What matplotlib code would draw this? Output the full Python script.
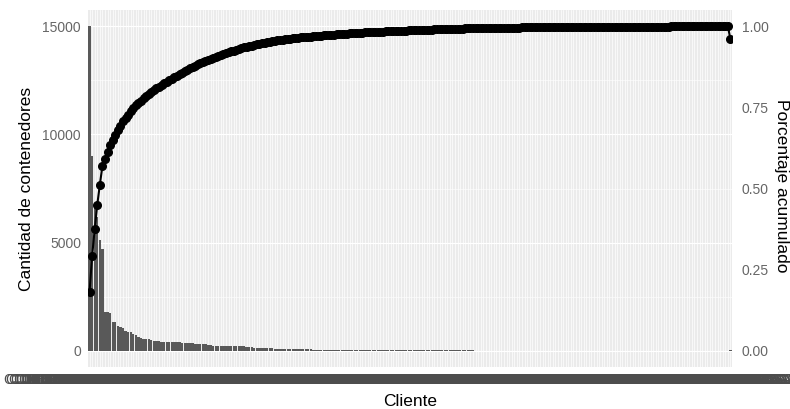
# Pareto de contenedores por cliente (barras + porcentaje acumulado)
import numpy as np
import matplotlib

matplotlib.use("Agg")
import matplotlib.pyplot as plt

plt.rcParams["font.family"] = ["Liberation Sans", "DejaVu Sans"]

# contenedores por cliente, ordenados de mayor a menor
contenedores = [
    15000, 9000, 6850, 6200, 5100, 4700, 1800, 1800, 1750, 1350,
    1310, 1150, 1100, 1060, 900, 870, 850, 760, 720, 640,
    580, 560, 550, 540, 490, 470, 460, 450, 415, 410,
    405, 400, 395, 392, 390, 385, 380, 375, 350, 345,
    340, 335, 330, 325, 320, 315, 250, 245, 240, 235,
    230, 228, 225, 222, 220, 218, 215, 212, 210, 205,
    200, 160, 155, 152, 150, 148, 145, 142, 140, 138,
    135, 130, 95, 92, 90, 88, 86, 84, 82, 80,
    78, 76, 74, 62, 61, 60, 59, 58, 57, 56,
    55, 54, 54, 53, 52, 52, 51, 50, 50, 49,
    48, 47, 46, 45, 36, 35, 35, 34, 34, 33,
    33, 32, 32, 31, 31, 30, 30, 30, 29, 29,
    28, 28, 28, 27, 27, 27, 26, 26, 26, 25,
    25, 25, 24, 24, 24, 23, 23, 23, 22, 22,
    22, 21, 21, 21, 20, 20, 20, 20, 19, 19,
    12, 12, 12, 12, 11, 11, 11, 11, 10, 10,
    10, 10, 10, 9, 9, 9, 9, 9, 8, 8,
    8, 8, 8, 8, 7, 7, 7, 7, 7, 7,
    6, 6, 6, 6, 6, 6, 5, 5, 5, 5,
    5, 5, 5, 4, 4, 4, 4, 4, 4, 4,
    4, 3, 3, 3, 3, 3, 3, 3, 3, 3,
    3, 3, 2, 2, 2, 2, 2, 2, 2, 2,
    2, 2, 2, 2, 2, 2, 2, 2, 1, 1,
    1, 1, 1, 1, 1, 1, 1, 1, 1, 1,
    1, 1, 1, 1, 1, 1, 1, 1, 1, 45,
]
# el ultimo punto de la curva cae por debajo de 1 en el original
ultimo_porcentaje = 0.96

# nombres de clientes (ilegibles en el original, se superponen)
clientes = [f"CLIENTE {i:03d} PERU S.A.C." for i in range(1, len(contenedores) + 1)]

y_ticks = [0, 5000, 10000, 15000]
y2_ticks = [0.0, 0.25, 0.5, 0.75, 1.0]


def plot():
    n = len(contenedores)
    x = np.arange(n)
    vals = np.array(contenedores, dtype=float)
    maximo = vals.max()

    porcentaje = np.cumsum(vals) / vals.sum()
    porcentaje[-1] = ultimo_porcentaje

    fig = plt.figure(figsize=(7.9, 4.09), dpi=100)
    W, H = 790, 409
    ax = fig.add_axes([88 / W, 1 - 367 / H, (732 - 88) / W, (367 - 10) / H])
    ax.set_facecolor("#EBEBEB")
    for s in ax.spines.values():
        s.set_visible(False)

    ax.set_xlim(-0.6, n - 1 + 0.6)
    ax.set_ylim(-0.05 * maximo, 1.05 * maximo)

    # rejilla estilo ggplot
    ax.set_axisbelow(True)
    ax.set_yticks(y_ticks)
    ax.set_yticks([2500, 7500, 12500], minor=True)
    ax.grid(which="major", axis="y", color="white", lw=0.8)
    ax.grid(which="minor", axis="y", color="white", lw=0.4)
    ax.set_xticks(x)
    ax.grid(which="major", axis="x", color="white", lw=0.5)

    ax.bar(x, vals, width=0.9, color="#595959", zorder=2)

    ax.set_yticklabels([str(v) for v in y_ticks])
    ax.set_xticklabels(clientes)
    ax.tick_params(axis="y", which="both", length=0, pad=5, labelsize=10,
                   labelcolor="#666666")
    ax.tick_params(axis="x", length=0, pad=4, labelsize=10, labelcolor="#4D4D4D")

    # eje secundario con el porcentaje acumulado
    ax2 = ax.twinx()
    for s in ax2.spines.values():
        s.set_visible(False)
    ax2.set_ylim(-0.05, 1.05)
    ax2.plot(x, porcentaje, color="black", lw=1.5, marker="o", ms=5.5, zorder=3)
    ax2.set_yticks(y2_ticks)
    ax2.set_yticklabels([f"{v:.2f}" for v in y2_ticks])
    ax2.tick_params(axis="y", length=0, pad=7, labelsize=10, labelcolor="#666666")

    fig.text(27 / W, 1 - 189 / H, "Cantidad de contenedores", rotation=90,
             ha="center", va="center", fontsize=12.5)
    fig.text(781 / W, 1 - 186 / H, "Porcentaje acumulado", rotation=-90,
             ha="center", va="center", fontsize=12.5)
    fig.text(410 / W, 1 - 401 / H, "Cliente", ha="center", va="center",
             fontsize=12.5)

    fig.savefig("out.png", dpi=100)


if __name__ == "__main__":
    plot()
